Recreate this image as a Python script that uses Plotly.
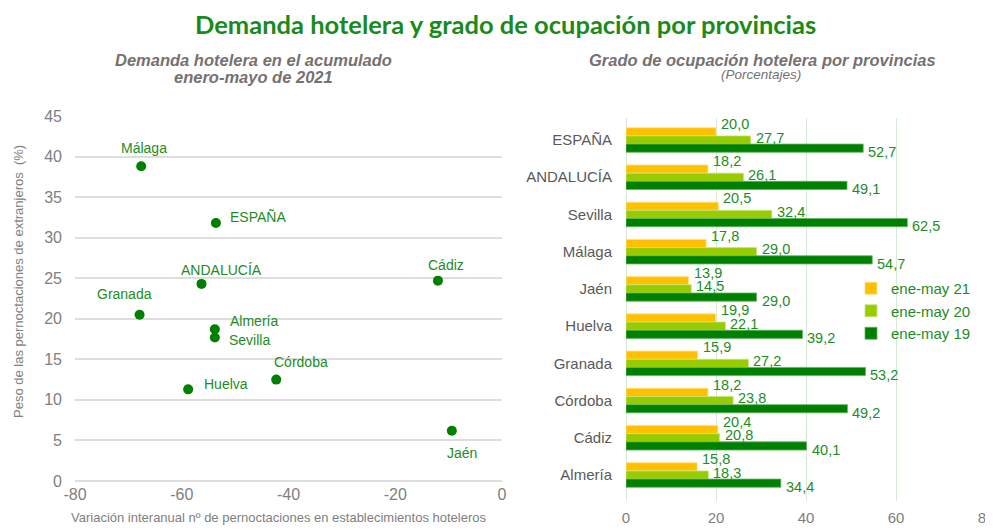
import plotly.graph_objects as go

# ---------------- data ----------------
scatter_names = ["Málaga", "ESPAÑA", "ANDALUCÍA", "Granada", "Almería", "Sevilla",
                 "Huelva", "Córdoba", "Cádiz", "Jaén"]
var_pernoctaciones = [-67.6, -53.6, -56.3, -67.9, -53.8, -53.8, -58.8, -42.3, -12.0, -9.4]
peso_extranjeros = [38.8, 31.8, 24.3, 20.5, 18.7, 17.7, 11.3, 12.5, 24.7, 6.2]

provincias = ["ESPAÑA", "ANDALUCÍA", "Sevilla", "Málaga", "Jaén", "Huelva",
              "Granada", "Córdoba", "Cádiz", "Almería"]
ene_may_21 = [20.0, 18.2, 20.5, 17.8, 13.9, 19.9, 15.9, 18.2, 20.4, 15.8]
ene_may_20 = [27.7, 26.1, 32.4, 29.0, 14.5, 22.1, 27.2, 23.8, 20.8, 18.3]
ene_may_19 = [52.7, 49.1, 62.5, 54.7, 29.0, 39.2, 53.2, 49.2, 40.1, 34.4]
series_names = ["ene-may 21", "ene-may 20", "ene-may 19"]

x_ticks_left = [-80, -60, -40, -20, 0]
y_ticks_left = [0, 5, 10, 15, 20, 25, 30, 35, 40, 45]
x_ticks_right = [0, 20, 40, 60, 80]

# ---------------- styles ----------------
OFF = 8                       # page body margin
W, H = 993 - OFF, 530 - OFF
FONT = "Liberation Sans, Arial, sans-serif"
GREEN = "#008000"
TXT_GREEN = "#1e8c1e"
GREY = "#808080"
SUB_GREY = "#767171"
bar_colors = ["#ffc000", "#99cc00", "#008000"]
bar_edges = ["#ffe089", "#c8e57a", "#5fb35f"]

# label placement for scatter (anchor, xshift, yshift in px)
label_pos = [("center", 3, 18), ("left", 12, 6), ("center", 20, 14), ("center", -15, 21),
             ("left", 13, 8), ("left", 12, -3), ("left", 14, 5), ("left", -4, 18),
             ("center", 8, 16), ("center", 10, -22)]
# value label vertical shift per series (px, up positive)
val_yshift = [16, 2.5, -12]


def px_x(p):
    return (p - OFF) / W


def px_y(p):
    return 1 - (p - OFF) / H


fig = go.Figure()

# scatter
fig.add_trace(go.Scatter(
    x=var_pernoctaciones, y=peso_extranjeros, mode="markers",
    marker=dict(color=GREEN, size=10), xaxis="x", yaxis="y", showlegend=False,
    hoverinfo="text", text=scatter_names))

# bars
for name, vals, col, edge in zip(series_names, [ene_may_21, ene_may_20, ene_may_19],
                                 bar_colors, bar_edges):
    fig.add_trace(go.Bar(
        y=provincias, x=vals, orientation="h", name=name,
        marker=dict(color=col, line=dict(color=edge, width=0.8)),
        xaxis="x2", yaxis="y2"))

annotations = []
# scatter labels
for n, xv, yv, (anc, dx, dy) in zip(scatter_names, var_pernoctaciones, peso_extranjeros, label_pos):
    annotations.append(dict(x=xv, y=yv, xref="x", yref="y", text=n, showarrow=False,
                            xanchor=anc, yanchor="middle", xshift=dx, yshift=dy,
                            font=dict(family=FONT, size=14, color=TXT_GREEN)))

# bar value labels
for vals, ys in zip([ene_may_21, ene_may_20, ene_may_19], val_yshift):
    for p, v in zip(provincias, vals):
        annotations.append(dict(x=v, y=p, xref="x2", yref="y2",
                                text=f"{v:.1f}".replace(".", ","), showarrow=False,
                                xanchor="left", yanchor="middle", xshift=3, yshift=ys,
                                font=dict(family=FONT, size=14.5, color=TXT_GREEN)))

# titles
annotations += [
    dict(x=px_x(505), y=px_y(24), xref="paper", yref="paper", showarrow=False,
         text="<b>Demanda hotelera y grado de ocupación por provincias</b>",
         font=dict(family="Lato, Open Sans, sans-serif", size=25.5, color="#1a8a1a"),
         xanchor="center", yanchor="middle"),
    dict(x=px_x(253), y=px_y(60.5), xref="paper", yref="paper", showarrow=False,
         text="<b><i>Demanda hotelera en el acumulado</i></b>",
         font=dict(family=FONT, size=16.5, color=SUB_GREY), xanchor="center", yanchor="middle"),
    dict(x=px_x(253), y=px_y(76.5), xref="paper", yref="paper", showarrow=False,
         text="<b><i>enero-mayo de 2021</i></b>",
         font=dict(family=FONT, size=16.5, color=SUB_GREY), xanchor="center", yanchor="middle"),
    dict(x=px_x(762), y=px_y(60), xref="paper", yref="paper", showarrow=False,
         text="<b><i>Grado de ocupación hotelera por provincias</i></b>",
         font=dict(family=FONT, size=16.5, color=SUB_GREY), xanchor="center", yanchor="middle"),
    dict(x=px_x(761), y=px_y(75), xref="paper", yref="paper", showarrow=False,
         text="<i>(Porcentajes)</i>",
         font=dict(family=FONT, size=13.5, color=SUB_GREY), xanchor="center", yanchor="middle"),
    dict(x=px_x(18), y=px_y(282), xref="paper", yref="paper", showarrow=False,
         text="Peso de las pernoctaciones de extranjeros  (%)", textangle=-90,
         font=dict(family=FONT, size=13, color=GREY), xanchor="center", yanchor="middle"),
    dict(x=px_x(278), y=px_y(517), xref="paper", yref="paper", showarrow=False,
         text="Variación interanual nº de pernoctaciones en establecimientos hoteleros",
         font=dict(family=FONT, size=13, color=GREY), xanchor="center", yanchor="middle"),
]

fig.update_layout(
    width=W, height=H, margin=dict(l=0, r=0, t=0, b=0, autoexpand=False),
    paper_bgcolor="white", plot_bgcolor="white",
    font=dict(family=FONT),
    barmode="group", bargap=0.34, bargroupgap=0.0,
    xaxis=dict(domain=[px_x(75), px_x(502)], range=[-80, 0], tickvals=x_ticks_left,
               ticktext=[str(v) for v in x_ticks_left], automargin=False,
               ticklabeloverflow="allow",
               showgrid=False, zeroline=False, showline=False, ticks="",
               tickfont=dict(size=16, color=GREY), ticklabelstandoff=2, anchor="y"),
    yaxis=dict(domain=[px_y(481), px_y(116)], range=[0, 45], tickvals=y_ticks_left,
               ticktext=[str(v) for v in y_ticks_left], automargin=False,
               ticklabeloverflow="allow",
               showgrid=True, gridcolor="#dedede", gridwidth=1.5, zeroline=True,
               zerolinecolor="#dedede", zerolinewidth=1.5, showline=False, ticks="",
               tickfont=dict(size=16, color=GREY), ticklabelstandoff=12, anchor="x"),
    xaxis2=dict(domain=[px_x(626), px_x(987)], range=[0, 80.2], tickvals=x_ticks_right,
                ticktext=[str(v) for v in x_ticks_right], automargin=False,
                ticklabeloverflow="allow",
                showgrid=True, gridcolor="#d6e8d6", gridwidth=1.2, zeroline=True,
                zerolinecolor="#d6e8d6", zerolinewidth=1.2, showline=False, ticks="",
                tickfont=dict(size=15, color=GREY), ticklabelstandoff=6, anchor="y2"),
    yaxis2=dict(domain=[px_y(501), px_y(118)], autorange="reversed", automargin=False,
                categoryorder="array", categoryarray=provincias,
                showgrid=False, zeroline=False, showline=False, ticks="",
                tickfont=dict(size=15, color="#595959"), ticklabelstandoff=13, anchor="x2"),
    legend=dict(x=px_x(851), y=px_y(311), xanchor="left", yanchor="middle",
                bgcolor="rgba(0,0,0,0)", font=dict(size=15, color=TXT_GREEN, family=FONT),
                itemwidth=30, tracegroupgap=0),
    annotations=annotations,
)

fig.write_html("out.html")
